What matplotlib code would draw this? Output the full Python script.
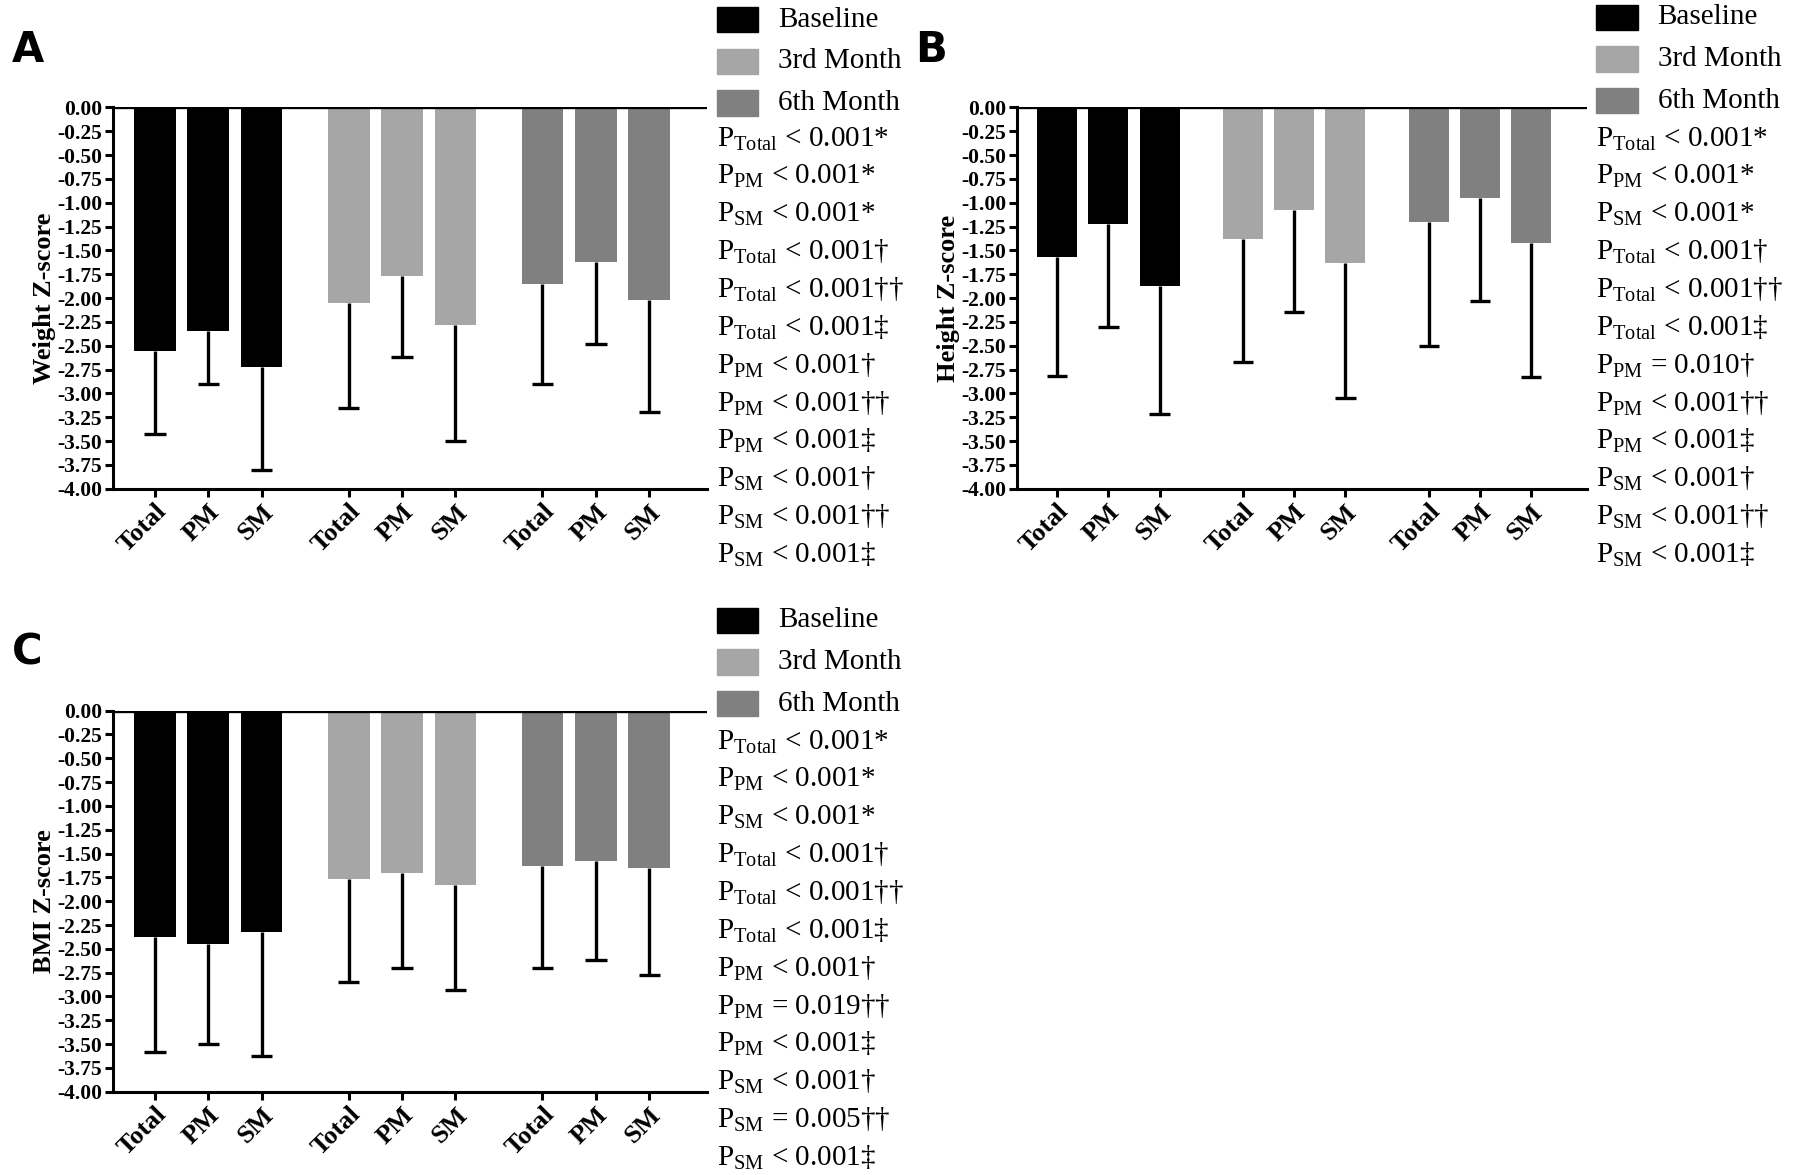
import matplotlib
matplotlib.use("Agg")
import matplotlib.pyplot as plt
from matplotlib.patches import Rectangle
import numpy as np

plt.rcParams['font.family'] = ['Liberation Serif', 'DejaVu Serif']
plt.rcParams['mathtext.fontset'] = 'custom'
plt.rcParams['mathtext.rm'] = 'Liberation Serif'

groups = ['Baseline', '3rd Month', '6th Month']
subgroups = ['Total', 'PM', 'SM']
colors = ['#000000', '#a6a6a6', '#808080']

weight_mean = [[-2.55, -2.35, -2.72], [-2.05, -1.77, -2.28], [-1.85, -1.62, -2.02]]
weight_low = [[-3.43, -2.90, -3.80], [-3.15, -2.62, -3.50], [-2.90, -2.48, -3.20]]
height_mean = [[-1.57, -1.22, -1.87], [-1.38, -1.08, -1.63], [-1.20, -0.95, -1.42]]
height_low = [[-2.82, -2.30, -3.22], [-2.67, -2.15, -3.05], [-2.50, -2.03, -2.83]]
bmi_mean = [[-2.38, -2.45, -2.32], [-1.77, -1.70, -1.83], [-1.63, -1.58, -1.65]]
bmi_low = [[-3.58, -3.50, -3.62], [-2.85, -2.70, -2.93], [-2.70, -2.62, -2.77]]

p_weight = [('Total', '< 0.001*'), ('PM', '< 0.001*'), ('SM', '< 0.001*'),
            ('Total', '< 0.001†'), ('Total', '< 0.001††'), ('Total', '< 0.001‡'),
            ('PM', '< 0.001†'), ('PM', '< 0.001††'), ('PM', '< 0.001‡'),
            ('SM', '< 0.001†'), ('SM', '< 0.001††'), ('SM', '< 0.001‡')]
p_height = [('Total', '< 0.001*'), ('PM', '< 0.001*'), ('SM', '< 0.001*'),
            ('Total', '< 0.001†'), ('Total', '< 0.001††'), ('Total', '< 0.001‡'),
            ('PM', '= 0.010†'), ('PM', '< 0.001††'), ('PM', '< 0.001‡'),
            ('SM', '< 0.001†'), ('SM', '< 0.001††'), ('SM', '< 0.001‡')]
p_bmi = [('Total', '< 0.001*'), ('PM', '< 0.001*'), ('SM', '< 0.001*'),
         ('Total', '< 0.001†'), ('Total', '< 0.001††'), ('Total', '< 0.001‡'),
         ('PM', '< 0.001†'), ('PM', '= 0.019††'), ('PM', '< 0.001‡'),
         ('SM', '< 0.001†'), ('SM', '= 0.005††'), ('SM', '< 0.001‡')]

W, H = 1565.0, 1017.0
fig = plt.figure(figsize=(18.09, 11.75), dpi=100)


def panel(left, top, width, letter, ylabel, means, lows, pvals, leg_top):
    ax = fig.add_axes([left / W, 1 - (top + 330) / H, width / W, 330 / H])
    pos = []
    for g in range(3):
        for s in range(3):
            pos.append(g * 3.63 + s)
    pos = np.array(pos)
    for g in range(3):
        x = pos[g * 3:g * 3 + 3]
        m = np.array(means[g])
        lo = np.array(lows[g])
        ax.bar(x, m, width=0.78, color=colors[g])
        ax.vlines(x, lo, m, color='black', lw=2.4)
        ax.hlines(lo, x - 0.2, x + 0.2, color='black', lw=2.4)
    ax.set_xlim(-0.78, pos[-1] + 1.09)
    ax.set_ylim(-4, 0)
    ax.set_yticks(np.arange(-4, 0.01, 0.25))
    ax.set_yticklabels(['%.2f' % v for v in np.arange(-4, 0.01, 0.25)],
                       fontweight='bold', fontsize=15.5)
    ax.set_xticks(pos)
    ax.set_xticklabels(subgroups * 3, rotation=45, ha='right', rotation_mode='anchor',
                       fontweight='bold', fontsize=19)
    ax.axhline(0, color='black', lw=2.4)
    for sp in ['top', 'right']:
        ax.spines[sp].set_visible(False)
    for sp in ['left', 'bottom']:
        ax.spines[sp].set_linewidth(2.2)
    ax.tick_params(width=2.2, length=6, pad=2)
    ax.set_ylabel(ylabel, fontweight='bold', fontsize=19, labelpad=1)
    fig.text((left - 88) / W, 1 - (top - 50) / H, letter, fontsize=30,
             fontweight='bold', family='DejaVu Sans', va='center')
    xr = left + width + 8
    for i, g in enumerate(groups):
        yc = leg_top + i * 36
        fig.add_artist(Rectangle((xr / W, 1 - (yc + 11) / H), 36 / W, 22 / H,
                                 transform=fig.transFigure, color=colors[i]))
        fig.text((xr + 53) / W, 1 - yc / H, g, fontsize=21, va='center')
    for i, (sub, txt) in enumerate(pvals):
        yc = top + 27 + i * 32.7
        fig.text(xr / W, 1 - yc / H, r'P$_{\mathrm{%s}}$ %s' % (sub, txt),
                 fontsize=21, va='center')


panel(98, 93, 514, 'A', 'Weight Z-score', weight_mean, weight_low, p_weight, 17)
panel(880, 93, 493, 'B', 'Height Z-score', height_mean, height_low, p_height, 15)
panel(98, 615, 514, 'C', 'BMI Z-score', bmi_mean, bmi_low, p_bmi, 537)

fig.savefig('out.png', dpi=100)
